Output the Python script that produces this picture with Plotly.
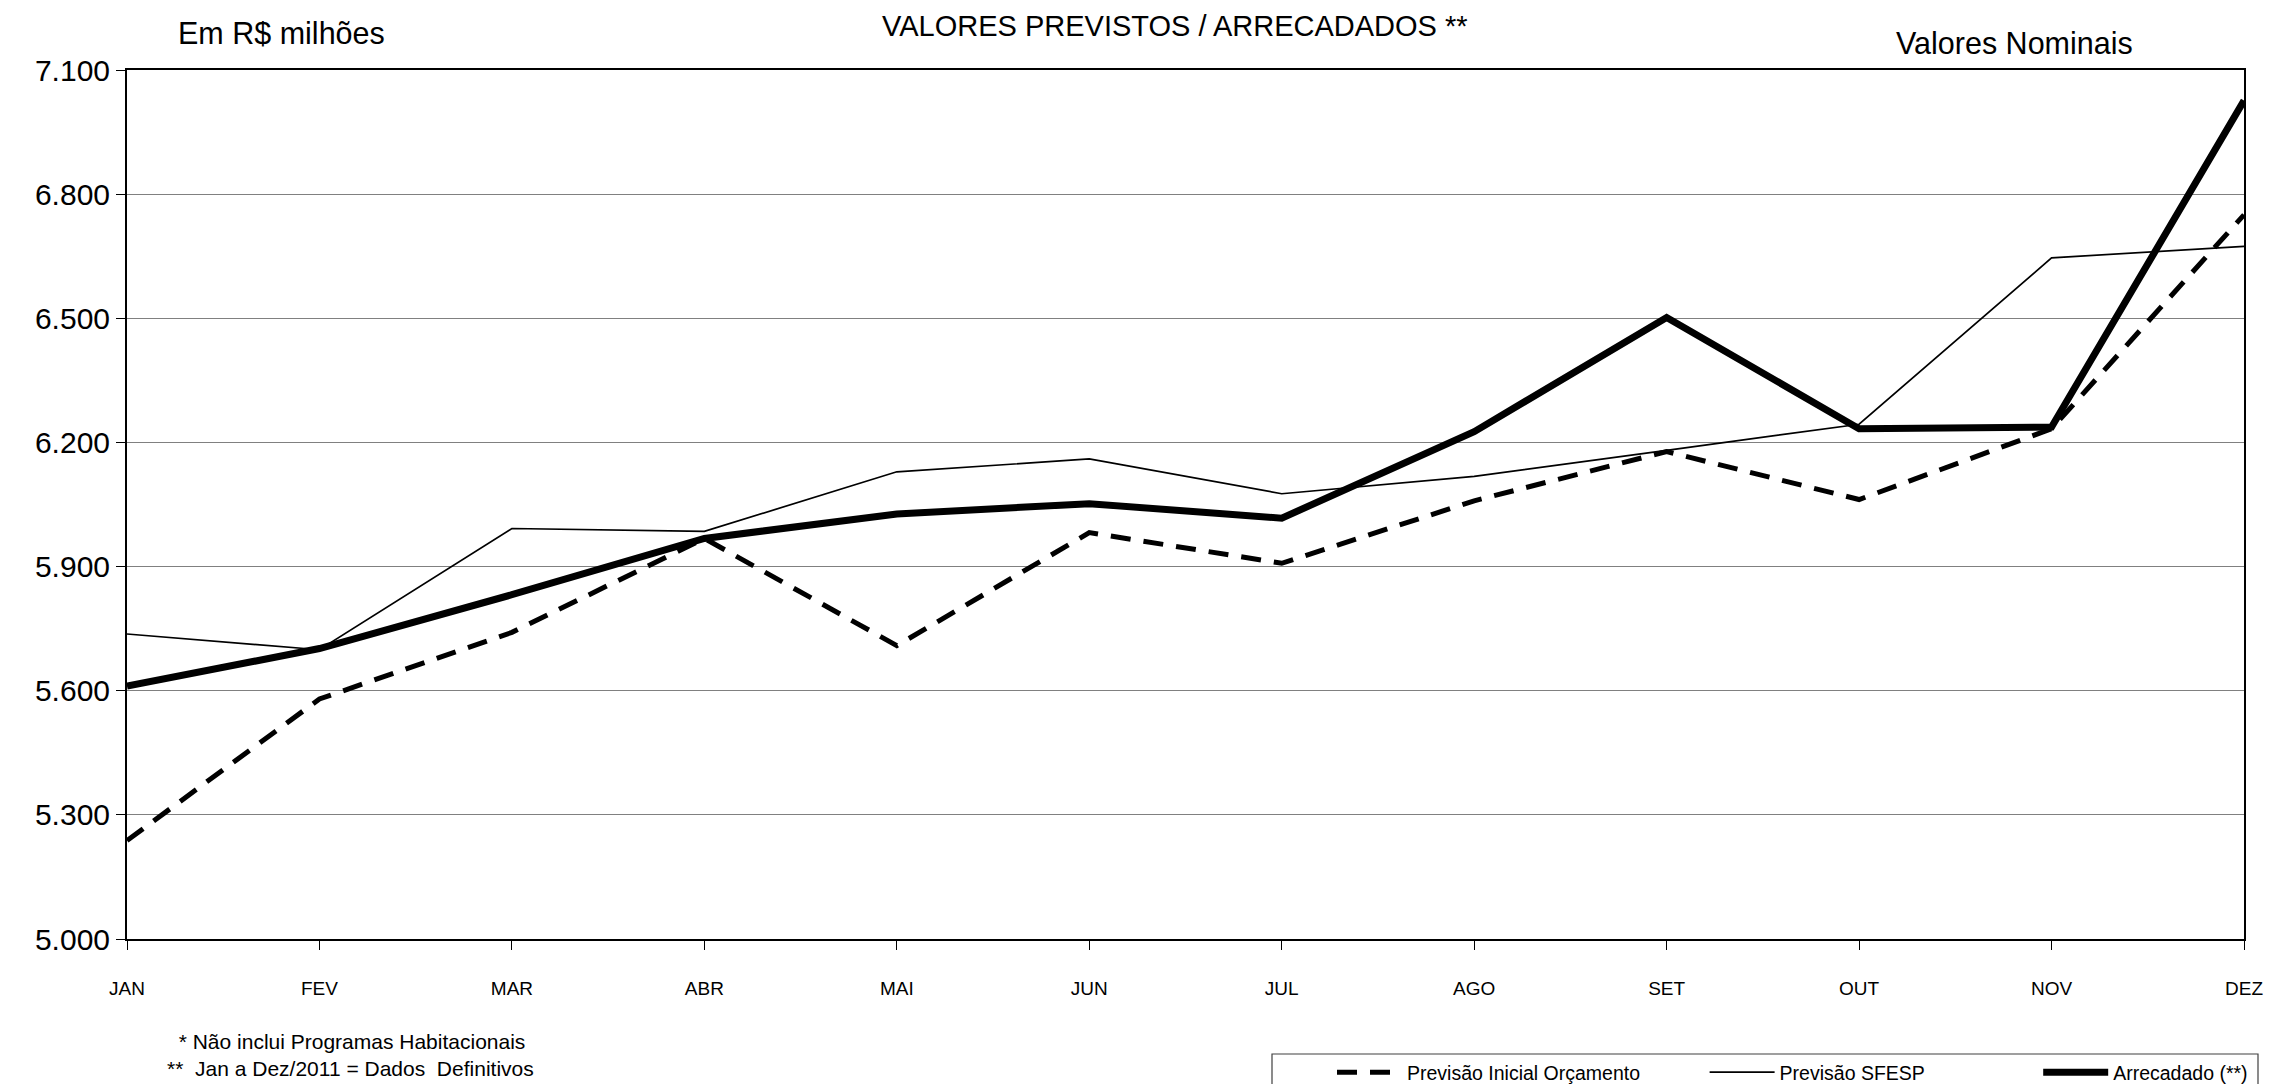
import plotly.graph_objects as go

months = ["JAN", "FEV", "MAR", "ABR", "MAI", "JUN", "JUL", "AGO", "SET", "OUT", "NOV", "DEZ"]
previsao_inicial = [5238, 5580, 5741, 5968, 5709, 5982, 5908, 6059, 6178, 6062, 6233, 6750]
previsao_sfesp = [5737, 5699, 5992, 5985, 6129, 6160, 6076, 6118, 6181, 6244, 6646, 6674]
arrecadado = [5611, 5702, 5832, 5968, 6027, 6052, 6017, 6226, 6502, 6233, 6237, 7026]
y_ticks = [5000, 5300, 5600, 5900, 6200, 6500, 6800, 7100]
y_tick_labels = ["5.000", "5.300", "5.600", "5.900", "6.200", "6.500", "6.800", "7.100"]

W, H = 2269, 1084
L, R, T, B = 127, 2244, 70, 939
font = "Liberation Sans, Arial, sans-serif"
NB = "\u00a0"


def px(x):
    return (x - L) / (R - L)


def py(y):
    return (B - y) / (B - T)


fig = go.Figure()
fig.add_trace(go.Scatter(x=months, y=previsao_inicial, mode="lines",
                         name="Previsão Inicial Orçamento" + NB * 11,
                         line=dict(color="black", width=5, dash="20px,13px")))
fig.add_trace(go.Scatter(x=months, y=previsao_sfesp, mode="lines",
                         name="Previsão SFESP" + NB * 20,
                         line=dict(color="black", width=1.7)))
fig.add_trace(go.Scatter(x=months, y=arrecadado, mode="lines",
                         name="Arrecadado (**)",
                         line=dict(color="black", width=7)))

fig.update_layout(
    width=W, height=H,
    paper_bgcolor="white", plot_bgcolor="white",
    margin=dict(l=L, r=W - R, t=T, b=H - B, autoexpand=False),
    font=dict(family=font, color="black"),
    showlegend=True,
    legend=dict(orientation="h", xref="container", yref="container",
                x=1332 / W, xanchor="left", y=1 - 1053 / H, yanchor="top",
                borderwidth=0, bgcolor="rgba(0,0,0,0)",
                font=dict(size=19.5, family=font),
                itemwidth=65, traceorder="normal"),
    xaxis=dict(range=[0, 11], showline=True, linecolor="black", linewidth=2,
               mirror=True, ticks="outside", ticklen=9, tickcolor="black",
               tickfont=dict(size=19, family=font), showgrid=False,
               ticklabelstandoff=22, zeroline=False, automargin=False),
    yaxis=dict(range=[5000, 7100], tickvals=y_ticks, ticktext=y_tick_labels,
               showline=True, linecolor="black", linewidth=2, mirror=True,
               ticks="outside", ticklen=9, tickcolor="black",
               tickfont=dict(size=30, family=font), automargin=False,
               showgrid=True, gridcolor="#808080", gridwidth=1.2, zeroline=False),
    shapes=[
        dict(type="rect", xref="paper", yref="paper", layer="above",
             x0=px(1272), x1=px(2258), y0=py(1054), y1=py(1100),
             line=dict(color="#404040", width=1.2), fillcolor="rgba(0,0,0,0)"),
    ],
    annotations=[
        dict(text="VALORES PREVISTOS / ARRECADADOS **", xref="paper", yref="paper",
             x=px(1175), y=py(26), xanchor="center", yanchor="middle",
             showarrow=False, font=dict(size=29, family=font)),
        dict(text="Em R$ milhões", xref="paper", yref="paper",
             x=px(176), y=py(33), xanchor="left", yanchor="middle",
             showarrow=False, font=dict(size=30.5, family=font)),
        dict(text="Valores Nominais", xref="paper", yref="paper",
             x=px(1894), y=py(43), xanchor="left", yanchor="middle",
             showarrow=False, font=dict(size=30.5, family=font)),
        dict(text="  * Não inclui Programas Habitacionais<br>**  Jan a Dez/2011 = Dados  Definitivos",
             xref="paper", yref="paper", align="left",
             x=px(165), y=py(1055), xanchor="left", yanchor="middle",
             showarrow=False, font=dict(size=21, family=font)),
    ],
)

fig.write_html("out.html", config={"displayModeBar": False},
               post_script="document.body.style.margin='0';document.body.style.overflow='hidden';")
